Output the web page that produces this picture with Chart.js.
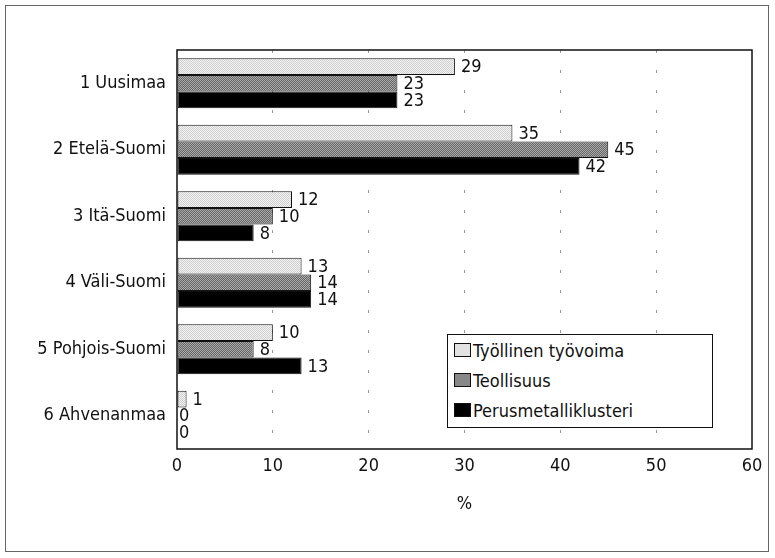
<!DOCTYPE html>
<html>
<head>
<meta charset="utf-8">
<script src="https://cdn.jsdelivr.net/npm/chart.js@4/dist/chart.umd.min.js"></script>
<style>
  body { margin: 0; background: #fff; }
  #wrap { position: relative; width: 775px; height: 558px; }
  #frame { position: absolute; left: 5px; top: 5px; width: 762px; height: 545px; border: 1px solid #666; }
  #legend {
    position: absolute; left: 447px; top: 334px; width: 264px; height: 92px;
    border: 1.5px solid #111; background: #fff;
    font-family: "Liberation Sans Narrow", "DejaVu Sans Condensed", sans-serif; font-size: 18px; color: #111;
  }
  #legend div { display: flex; align-items: center; height: 30px; padding-left: 6px; }
  #legend span.box { display: inline-block; width: 15px; height: 12px; border: 1px solid #111; margin-right: 2px; }
</style>
</head>
<body>
<div id="wrap">
  <div id="frame"></div>
  <canvas id="chart" width="775" height="558"></canvas>
  <div id="legend"></div>
</div>
<script>
const regions = ['1 Uusimaa', '2 Etelä-Suomi', '3 Itä-Suomi', '4 Väli-Suomi', '5 Pohjois-Suomi', '6 Ahvenanmaa'];
const tyovoima = [29, 35, 12, 13, 10, 1];
const teollisuus = [23, 45, 10, 14, 8, 0];
const perusmetalli = [23, 42, 8, 14, 13, 0];
const seriesNames = ['Työllinen työvoima', 'Teollisuus', 'Perusmetalliklusteri'];
const xTicks = [0, 10, 20, 30, 40, 50, 60];

const FONT = '"Liberation Sans Narrow", "DejaVu Sans Condensed", sans-serif';

// dotted fill patterns like the print screen
function makePattern(bg, dot) {
    const c = document.createElement('canvas');
    c.width = 2; c.height = 2;
    const g = c.getContext('2d');
    g.fillStyle = bg; g.fillRect(0, 0, 2, 2);
    g.fillStyle = dot; g.fillRect(0, 0, 1, 1); g.fillRect(1, 1, 1, 1);
    return g.createPattern(c, 'repeat');
}
const lightFill = makePattern('#f2f2f2', '#d0d0d0');
const midFill = makePattern('#666', '#aaa');
const fills = [lightFill, midFill, '#000'];

document.getElementById('legend').innerHTML = seriesNames.map((n, i) => {
    const bg = i === 0 ? '#e2e2e2' : i === 1 ? '#888' : '#000';
    return '<div><span class="box" style="background:' + bg + '"></span>' + n + '</div>';
}).join('');

const valueLabels = {
    id: 'valueLabels',
    afterDatasetsDraw(chart) {
        const ctx = chart.ctx;
        ctx.save();
        ctx.font = '18px ' + FONT;
        ctx.fillStyle = '#111';
        ctx.textBaseline = 'middle';
        chart.data.datasets.forEach((ds, i) => {
            chart.getDatasetMeta(i).data.forEach((bar, j) => {
                const x = bar.x + (ds.data[j] === 0 ? 2 : 6);
                ctx.fillText(String(ds.data[j]), x, bar.y + 1);
            });
        });
        ctx.restore();
    }
};

const plotBox = {
    id: 'plotBox',
    afterDraw(chart) {
        const a = chart.chartArea, ctx = chart.ctx;
        ctx.save();
        ctx.strokeStyle = '#111';
        ctx.lineWidth = 1.5;
        ctx.strokeRect(a.left, a.top, a.right - a.left, a.bottom - a.top);
        ctx.restore();
    }
};

new Chart(document.getElementById('chart'), {
    type: 'bar',
    data: {
        labels: regions,
        datasets: [tyovoima, teollisuus, perusmetalli].map((d, i) => ({
            label: seriesNames[i],
            data: d,
            backgroundColor: fills[i],
            borderColor: '#111',
            borderWidth: 1,
            borderSkipped: false,
            barPercentage: 1,
            categoryPercentage: 0.75
        }))
    },
    options: {
        indexAxis: 'y',
        responsive: false,
        animation: false,
        layout: { padding: { left: 0, top: 50, right: 23, bottom: 39 } },
        plugins: { legend: { display: false }, tooltip: { enabled: false } },
        scales: {
            x: {
                min: 0, max: 60,
                afterBuildTicks(scale) { scale.ticks = xTicks.map(v => ({ value: v })); },
                afterFit(scale) { scale.height = 70; },
                grid: {
                    color: ctx => (ctx.tick && (ctx.tick.value === 0 || ctx.tick.value === 60)) ? 'rgba(0,0,0,0)' : '#999',
                    lineWidth: 1,
                    tickLength: 0,
                    drawTicks: false
                },
                border: { display: false, dash: [3, 17] },
                ticks: { color: '#111', font: { family: FONT, size: 18 }, padding: 7 },
                title: { display: true, text: '%', color: '#111', font: { family: FONT, size: 18 }, padding: { top: 3 } }
            },
            y: {
                afterFit(scale) { scale.width = 177; },
                grid: { display: false },
                border: { display: false },
                ticks: { color: '#111', font: { family: FONT, size: 18 }, padding: 3 }
            }
        }
    },
    plugins: [valueLabels, plotBox]
});
</script>
</body>
</html>
